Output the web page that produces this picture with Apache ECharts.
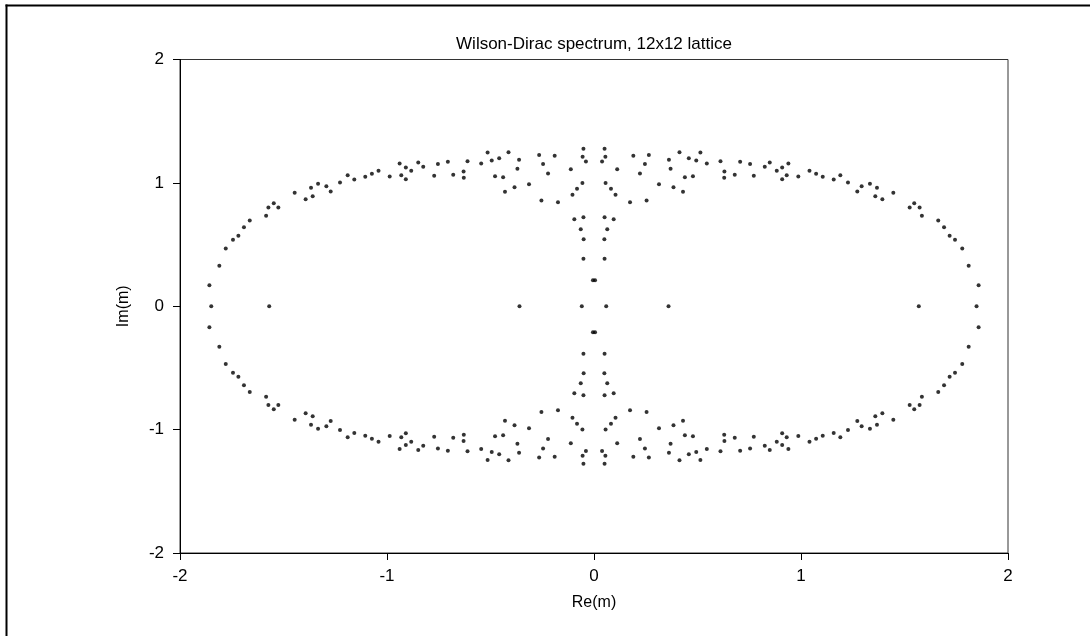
<!DOCTYPE html>
<html>
<head>
<meta charset="utf-8">
<script src="https://cdn.jsdelivr.net/npm/echarts@6/dist/echarts.min.js"></script>
<style>
html,body{margin:0;padding:0;background:#fff;}
#chart{width:1090px;height:636px;}
</style>
</head>
<body>
<div id="chart"></div>
<script>
// Eigenvalues [Re(m), Im(m)], grouped by quadrant
var quadrantUpperRight = [
[0.051,1.277],[0.055,1.212],[0.039,1.174],[0.112,1.111],[0.056,0.998],[0.082,0.952],[0.104,0.903],[0.174,0.843],
[0.190,1.220],[0.246,1.152],[0.222,1.076],[0.265,1.225],[0.254,0.857],[0.314,0.989],[0.362,1.187],[0.370,1.114],
[0.384,0.965],[0.413,1.249],[0.430,0.928],[0.439,1.046],[0.458,1.200],[0.478,1.054],[0.494,1.182],[0.514,1.247],
[0.545,1.157],[0.611,1.176],[0.630,1.092],[0.629,1.041],[0.680,1.066],[0.706,1.171],[0.754,1.152],[0.772,1.058],
[0.825,1.131],[0.849,1.165],[0.883,1.098],[0.909,1.125],[0.909,1.030],[0.931,1.062],[0.939,1.157],[0.987,1.052],
[1.041,1.098],[1.073,1.074],[1.105,1.049],[1.158,1.028],[1.190,1.062],[1.227,1.003],[1.272,0.930],[1.293,0.973],
[1.333,0.993],[1.367,0.960],[1.359,0.892],[1.393,0.868],[1.446,0.920],[1.525,0.800],[1.547,0.835],[1.573,0.800],
[1.584,0.733],[1.663,0.695],[1.691,0.641],[1.718,0.571],[1.744,0.539],[1.779,0.468],[1.810,0.328],[1.858,0.170],
[0.051,0.722],[0.095,0.706],[0.064,0.625],[0.050,0.543],[0.051,0.384],[0.005,0.211]
];
var quadrantUpperLeft = [
[-0.051,1.277],[-0.055,1.212],[-0.039,1.174],[-0.112,1.111],[-0.056,0.998],[-0.082,0.952],[-0.104,0.903],[-0.174,0.843],
[-0.190,1.220],[-0.246,1.152],[-0.222,1.076],[-0.265,1.225],[-0.254,0.857],[-0.314,0.989],[-0.362,1.187],[-0.370,1.114],
[-0.384,0.965],[-0.413,1.249],[-0.430,0.928],[-0.439,1.046],[-0.458,1.200],[-0.478,1.054],[-0.494,1.182],[-0.514,1.247],
[-0.545,1.157],[-0.611,1.176],[-0.630,1.092],[-0.629,1.041],[-0.680,1.066],[-0.706,1.171],[-0.754,1.152],[-0.772,1.058],
[-0.825,1.131],[-0.849,1.165],[-0.883,1.098],[-0.909,1.125],[-0.909,1.030],[-0.931,1.062],[-0.939,1.157],[-0.987,1.052],
[-1.041,1.098],[-1.073,1.074],[-1.105,1.049],[-1.158,1.028],[-1.190,1.062],[-1.227,1.003],[-1.272,0.930],[-1.293,0.973],
[-1.333,0.993],[-1.367,0.960],[-1.359,0.892],[-1.393,0.868],[-1.446,0.920],[-1.525,0.800],[-1.547,0.835],[-1.573,0.800],
[-1.584,0.733],[-1.663,0.695],[-1.691,0.641],[-1.718,0.571],[-1.744,0.539],[-1.779,0.468],[-1.810,0.328],[-1.858,0.170],
[-0.051,0.722],[-0.095,0.706],[-0.064,0.625],[-0.050,0.543],[-0.051,0.384],[-0.005,0.211]
];
var quadrantLowerLeft = [
[-0.051,-1.277],[-0.055,-1.212],[-0.039,-1.174],[-0.112,-1.111],[-0.056,-0.998],[-0.082,-0.952],[-0.104,-0.903],[-0.174,-0.843],
[-0.190,-1.220],[-0.246,-1.152],[-0.222,-1.076],[-0.265,-1.225],[-0.254,-0.857],[-0.314,-0.989],[-0.362,-1.187],[-0.370,-1.114],
[-0.384,-0.965],[-0.413,-1.249],[-0.430,-0.928],[-0.439,-1.046],[-0.458,-1.200],[-0.478,-1.054],[-0.494,-1.182],[-0.514,-1.247],
[-0.545,-1.157],[-0.611,-1.176],[-0.630,-1.092],[-0.629,-1.041],[-0.680,-1.066],[-0.706,-1.171],[-0.754,-1.152],[-0.772,-1.058],
[-0.825,-1.131],[-0.849,-1.165],[-0.883,-1.098],[-0.909,-1.125],[-0.909,-1.030],[-0.931,-1.062],[-0.939,-1.157],[-0.987,-1.052],
[-1.041,-1.098],[-1.073,-1.074],[-1.105,-1.049],[-1.158,-1.028],[-1.190,-1.062],[-1.227,-1.003],[-1.272,-0.930],[-1.293,-0.973],
[-1.333,-0.993],[-1.367,-0.960],[-1.359,-0.892],[-1.393,-0.868],[-1.446,-0.920],[-1.525,-0.800],[-1.547,-0.835],[-1.573,-0.800],
[-1.584,-0.733],[-1.663,-0.695],[-1.691,-0.641],[-1.718,-0.571],[-1.744,-0.539],[-1.779,-0.468],[-1.810,-0.328],[-1.858,-0.170],
[-0.051,-0.722],[-0.095,-0.706],[-0.064,-0.625],[-0.050,-0.543],[-0.051,-0.384],[-0.005,-0.211]
];
var quadrantLowerRight = [
[0.051,-1.277],[0.055,-1.212],[0.039,-1.174],[0.112,-1.111],[0.056,-0.998],[0.082,-0.952],[0.104,-0.903],[0.174,-0.843],
[0.190,-1.220],[0.246,-1.152],[0.222,-1.076],[0.265,-1.225],[0.254,-0.857],[0.314,-0.989],[0.362,-1.187],[0.370,-1.114],
[0.384,-0.965],[0.413,-1.249],[0.430,-0.928],[0.439,-1.046],[0.458,-1.200],[0.478,-1.054],[0.494,-1.182],[0.514,-1.247],
[0.545,-1.157],[0.611,-1.176],[0.630,-1.092],[0.629,-1.041],[0.680,-1.066],[0.706,-1.171],[0.754,-1.152],[0.772,-1.058],
[0.825,-1.131],[0.849,-1.165],[0.883,-1.098],[0.909,-1.125],[0.909,-1.030],[0.931,-1.062],[0.939,-1.157],[0.987,-1.052],
[1.041,-1.098],[1.073,-1.074],[1.105,-1.049],[1.158,-1.028],[1.190,-1.062],[1.227,-1.003],[1.272,-0.930],[1.293,-0.973],
[1.333,-0.993],[1.367,-0.960],[1.359,-0.892],[1.393,-0.868],[1.446,-0.920],[1.525,-0.800],[1.547,-0.835],[1.573,-0.800],
[1.584,-0.733],[1.663,-0.695],[1.691,-0.641],[1.718,-0.571],[1.744,-0.539],[1.779,-0.468],[1.810,-0.328],[1.858,-0.170],
[0.051,-0.722],[0.095,-0.706],[0.064,-0.625],[0.050,-0.543],[0.051,-0.384],[0.005,-0.211]
];
var realAxisPoints = [
[-1.849,0],[-1.569,0],[-0.360,0],[-0.059,0],[0.059,0],[0.360,0],[1.569,0],[1.848,0]
];
var xTicks = [-2, -1, 0, 1, 2];
var yTicks = [-2, -1, 0, 1, 2];
var titleText = 'Wilson-Dirac spectrum, 12x12 lattice';
var xName = 'Re(m)';
var yName = 'Im(m)';

var allPoints = [].concat(quadrantUpperLeft, quadrantUpperRight, realAxisPoints, quadrantLowerLeft, quadrantLowerRight);

var FONT = '"Liberation Sans", Arial, sans-serif';
var chart = echarts.init(document.getElementById('chart'), null, {renderer: 'canvas'});

var axisCommon = {
  min: -2, max: 2, interval: 1,
  axisLine: {show: true, onZero: false, lineStyle: {color: '#000', width: 1}},
  axisTick: {show: true, inside: false, length: 7, lineStyle: {color: '#000'}},
  splitLine: {show: false},
  nameTextStyle: {fontFamily: FONT, fontSize: 16, color: '#000'}
};

chart.setOption({
  backgroundColor: '#fff',
  animation: false,
  grid: {left: 180, right: 82, top: 59.5, bottom: 83, show: true, borderColor: '#333', borderWidth: 1, backgroundColor: 'transparent', containLabel: false},
  xAxis: Object.assign({}, axisCommon, {
    type: 'value', position: 'bottom', name: xName, nameLocation: 'middle', nameGap: 42,
    axisLabel: {fontFamily: FONT, fontSize: 17, color: '#000', margin: 15,
      formatter: function (v) { return xTicks.indexOf(v) >= 0 ? String(v) : ''; }}
  }),
  yAxis: Object.assign({}, axisCommon, {
    type: 'value', position: 'left', name: yName, nameLocation: 'middle', nameGap: 48,
    axisLabel: {fontFamily: FONT, fontSize: 17, color: '#000', margin: 16,
      formatter: function (v) { return yTicks.indexOf(v) >= 0 ? String(v) : ''; }}
  }),
  graphic: [
    {type: 'text', x: 594, y: 44.5, style: {text: titleText, font: '17px ' + FONT, fill: '#000', align: 'center', verticalAlign: 'middle'}, z: 10},
    {type: 'line', shape: {x1: 6.5, y1: 4.5, x2: 6.5, y2: 636}, style: {stroke: '#000', lineWidth: 2}, z: 10},
    {type: 'line', shape: {x1: 5.5, y1: 5.5, x2: 1090, y2: 5.5}, style: {stroke: '#000', lineWidth: 2}, z: 10}
  ],
  series: [{
    type: 'scatter',
    data: allPoints,
    symbol: 'circle',
    symbolSize: 4,
    itemStyle: {color: '#000'},
    silent: true
  }]
});
</script>
</body>
</html>
